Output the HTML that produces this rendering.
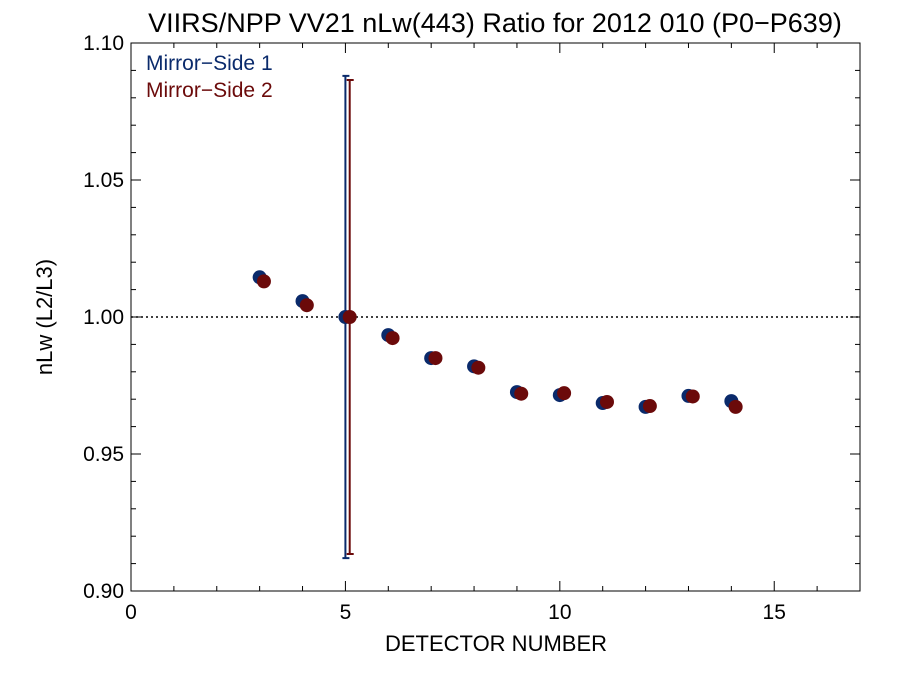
<!DOCTYPE html>
<html><head><meta charset="utf-8"><style>
body{margin:0;background:#fff;}
svg text{font-family:"Liberation Sans",Arial,sans-serif;}
</style></head><body>
<svg id="c" width="900" height="675" xmlns="http://www.w3.org/2000/svg">
<rect width="900" height="675" fill="#fff"/>
<text x="495" y="32" font-size="27" text-anchor="middle">VIIRS/NPP VV21 nLw(443) Ratio for 2012 010 (P0−P639)</text>
<g id="axes"></g>
<g id="marks"></g>
<text x="146" y="70" font-size="21" fill="#0a2a6b">Mirror−Side 1</text>
<text x="146" y="97" font-size="21" fill="#6b0a0a">Mirror−Side 2</text>
<text x="496" y="651" font-size="22" text-anchor="middle">DETECTOR NUMBER</text>
<text transform="translate(52,317) rotate(-90)" font-size="22" text-anchor="middle">nLw (L2/L3)</text>
</svg>
<script>
const detectors=[3,4,5,6,7,8,9,10,11,12,13,14];
const ms1=[1.0145,1.0058,1.000,0.9934,0.985,0.982,0.9726,0.9715,0.9686,0.9672,0.9712,0.9693];
const ms2=[1.0130,1.0043,1.000,0.9923,0.985,0.9815,0.972,0.9722,0.9690,0.9675,0.971,0.9672];
const errMs1=[5,0.912,1.088];
const errMs2=[5.1,0.9135,1.0865];
const xTicks=[0,5,10,15];
const yTicks=[0.90,0.95,1.00,1.05,1.10];
const X0=131,X1=860,Y0=591,Y1=43;
const xs=v=>X0+(v-0)/17*(X1-X0);
const ys=v=>Y0-(v-0.9)/0.2*(Y0-Y1);
const NS="http://www.w3.org/2000/svg";
const ax=document.getElementById('axes'),mk=document.getElementById('marks');
function el(t,a,p){const e=document.createElementNS(NS,t);for(const k in a)e.setAttribute(k,a[k]);p.appendChild(e);return e;}
let fr=el('rect',{x:X0,y:Y1,width:X1-X0,height:Y0-Y1,fill:'none',stroke:'#000','stroke-width':1},ax);


for(let v=0;v<=17;v++){const x=xs(v),L=(v%5==0)?10:5;
 el('line',{x1:x,x2:x,y1:Y0,y2:Y0-L,stroke:'#000'},ax);el('line',{x1:x,x2:x,y1:Y1,y2:Y1+L,stroke:'#000'},ax);}
for(let i=0;i<=20;i++){const v=0.9+i*0.01,y=ys(v),L=(i%5==0)?10:5;
 el('line',{x1:X0,x2:X0+L,y1:y,y2:y,stroke:'#000'},ax);el('line',{x1:X1,x2:X1-L,y1:y,y2:y,stroke:'#000'},ax);}
xTicks.forEach(v=>{const t=el('text',{x:xs(v),y:Y0+28,'font-size':21,'text-anchor':'middle'},ax);t.textContent=v;
 
 });
yTicks.forEach(v=>{const t=el('text',{x:X0-7,y:ys(v)+7,'font-size':21,'text-anchor':'end'},ax);t.textContent=v.toFixed(2);
 
 });
const ref=el('line',{x1:X0,x2:X1,y1:ys(1),y2:ys(1),stroke:'#000','stroke-dasharray':'2,3','stroke-width':1.5},ax);


function eb(e,c,n){const x=xs(e[0]);const g=el('g',{},mk);
 
 
 el('line',{x1:x,x2:x,y1:ys(e[1]),y2:ys(e[2]),stroke:c,'stroke-width':2},g);
 el('line',{x1:x-3,x2:x+4,y1:ys(e[1]),y2:ys(e[1]),stroke:c,'stroke-width':2},g);
 el('line',{x1:x-3,x2:x+4,y1:ys(e[2]),y2:ys(e[2]),stroke:c,'stroke-width':2},g);}
eb(errMs1,'#0a2a6b','error-bar-ms1');eb(errMs2,'#6b0a0a','error-bar-ms2');
detectors.forEach((d,i)=>{const p=el('circle',{cx:xs(d),cy:ys(ms1[i]),r:7,fill:'#0a2a6b'},mk);
 
 });
detectors.forEach((d,i)=>{const p=el('circle',{cx:xs(d+0.1),cy:ys(ms2[i]),r:7,fill:'#6b0a0a'},mk);
 
 });
</script>
</body></html>
